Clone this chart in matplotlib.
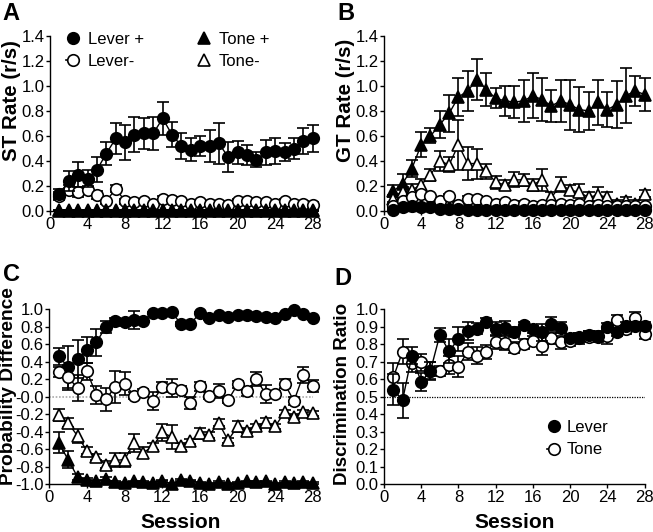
import numpy as np
import matplotlib
matplotlib.use("Agg")
import matplotlib.pyplot as plt
from matplotlib.lines import Line2D

plt.rcParams['font.family'] = ['Liberation Sans', 'DejaVu Sans']
plt.rcParams['axes.unicode_minus'] = False

sessions = list(range(1, 29))

# Panel A: ST rate (r/s)
a_lever_pos = [0.14, 0.24, 0.29, 0.26, 0.33, 0.46, 0.58, 0.55, 0.61, 0.62, 0.62, 0.74, 0.61, 0.52,
               0.49, 0.52, 0.52, 0.54, 0.43, 0.47, 0.45, 0.41, 0.47, 0.48, 0.47, 0.50, 0.56, 0.58]
a_lever_pos_err = [0.04, 0.08, 0.10, 0.07, 0.10, 0.09, 0.12, 0.14, 0.14, 0.12, 0.13, 0.13, 0.10, 0.10,
                   0.09, 0.08, 0.13, 0.16, 0.12, 0.09, 0.08, 0.06, 0.10, 0.10, 0.07, 0.08, 0.10, 0.11]
a_lever_neg = [0.12, 0.17, 0.15, 0.17, 0.13, 0.08, 0.18, 0.08, 0.07, 0.08, 0.06, 0.10, 0.09, 0.08,
               0.06, 0.07, 0.06, 0.06, 0.05, 0.08, 0.08, 0.07, 0.07, 0.06, 0.08, 0.06, 0.06, 0.05]
a_lever_neg_err = [0.03, 0.04, 0.04, 0.03, 0.03, 0.02, 0.03, 0.02, 0.02, 0.02, 0.02, 0.02, 0.02, 0.02,
                   0.02, 0.02, 0.02, 0.02, 0.02, 0.02, 0.02, 0.02, 0.02, 0.02, 0.02, 0.02, 0.02, 0.02]
a_tone_pos = [0.0] * 28
a_tone_neg = [0.01] * 28

# Panel B: GT rate (r/s)
b_tone_pos = [0.16, 0.22, 0.34, 0.53, 0.60, 0.69, 0.78, 0.91, 0.96, 1.05, 0.97, 0.90, 0.88, 0.87,
              0.88, 0.92, 0.89, 0.84, 0.88, 0.85, 0.81, 0.80, 0.87, 0.81, 0.85, 0.92, 0.96, 0.93]
b_tone_pos_err = [0.05, 0.08, 0.07, 0.10, 0.06, 0.11, 0.15, 0.15, 0.16, 0.16, 0.13, 0.08, 0.12, 0.13,
                  0.17, 0.18, 0.17, 0.13, 0.17, 0.20, 0.18, 0.15, 0.18, 0.14, 0.19, 0.22, 0.12, 0.13]
b_tone_neg = [0.10, 0.15, 0.17, 0.21, 0.29, 0.40, 0.37, 0.53, 0.38, 0.38, 0.32, 0.23, 0.21, 0.25,
              0.25, 0.21, 0.25, 0.11, 0.21, 0.17, 0.15, 0.11, 0.13, 0.11, 0.06, 0.08, 0.06, 0.14]
b_tone_neg_err = [0.03, 0.04, 0.05, 0.05, 0.05, 0.08, 0.06, 0.20, 0.13, 0.12, 0.06, 0.05, 0.04, 0.06,
                  0.05, 0.05, 0.09, 0.04, 0.06, 0.04, 0.07, 0.04, 0.06, 0.04, 0.03, 0.03, 0.03, 0.03]
b_lever_neg = [0.04, 0.08, 0.11, 0.14, 0.12, 0.08, 0.12, 0.05, 0.10, 0.10, 0.08, 0.06, 0.07, 0.05,
               0.06, 0.04, 0.05, 0.05, 0.06, 0.05, 0.06, 0.04, 0.05, 0.04, 0.04, 0.04, 0.04, 0.04]
b_lever_neg_err = [0.02] * 28
b_lever_pos = [0.01, 0.03, 0.04, 0.03, 0.03, 0.02, 0.02, 0.02, 0.01, 0.01, 0.01, 0.01, 0.01, 0.01,
               0.01, 0.01, 0.01, 0.01, 0.01, 0.01, 0.01, 0.01, 0.01, 0.01, 0.01, 0.01, 0.01, 0.01]

# Panel C: probability difference
c_lever_pos = [0.46, 0.34, 0.43, 0.53, 0.62, 0.80, 0.87, 0.85, 0.88, 0.87, 0.96, 0.96, 0.97, 0.83,
               0.83, 0.96, 0.90, 0.93, 0.91, 0.93, 0.93, 0.92, 0.91, 0.90, 0.95, 0.99, 0.95, 0.90]
c_lever_pos_err = [0.10, 0.24, 0.22, 0.15, 0.15, 0.07, 0.03, 0.04, 0.10, 0.02, 0.01, 0.01, 0.01, 0.02,
                   0.02, 0.01, 0.02, 0.01, 0.02, 0.01, 0.01, 0.02, 0.02, 0.02, 0.01, 0.01, 0.02, 0.02]
c_lever_neg = [0.28, 0.22, 0.10, 0.29, 0.02, -0.03, 0.11, 0.15, 0.01, 0.05, -0.05, 0.11, 0.10, 0.08,
               -0.07, 0.12, 0.01, 0.06, -0.04, 0.14, 0.06, 0.20, 0.03, 0.03, 0.15, -0.05, 0.25, 0.12]
c_lever_neg_err = [0.06, 0.14, 0.15, 0.10, 0.10, 0.13, 0.18, 0.13, 0.04, 0.04, 0.10, 0.06, 0.10, 0.04,
                   0.07, 0.05, 0.04, 0.08, 0.03, 0.04, 0.05, 0.08, 0.10, 0.04, 0.05, 0.05, 0.09, 0.07]
c_tone_neg = [-0.21, -0.30, -0.45, -0.62, -0.69, -0.78, -0.73, -0.72, -0.53, -0.64, -0.57, -0.41, -0.46, -0.57,
              -0.51, -0.42, -0.44, -0.30, -0.50, -0.34, -0.39, -0.34, -0.29, -0.34, -0.18, -0.23, -0.18, -0.19]
c_tone_neg_err = [0.07, 0.05, 0.08, 0.04, 0.03, 0.04, 0.08, 0.08, 0.10, 0.06, 0.04, 0.10, 0.14, 0.04,
                  0.03, 0.06, 0.03, 0.04, 0.03, 0.06, 0.03, 0.03, 0.05, 0.03, 0.03, 0.03, 0.03, 0.03]
c_tone_pos = [-0.53, -0.72, -0.92, -0.95, -0.97, -0.94, -0.98, -0.99, -0.97, -0.98, -0.99, -0.96, -1.0, -0.95,
              -0.96, -0.99, -1.0, -0.98, -1.0, -0.99, -0.97, -0.98, -0.97, -1.0, -0.98, -0.99, -0.98, -0.99]
c_tone_pos_err = [0.12, 0.10, 0.03, 0.02, 0.02, 0.02, 0.01, 0.01, 0.01, 0.01, 0.01, 0.01, 0.01, 0.01,
                  0.01, 0.01, 0.01, 0.01, 0.01, 0.01, 0.01, 0.01, 0.01, 0.01, 0.01, 0.01, 0.01, 0.01]

# Panel D: discrimination ratio
d_lever = [0.54, 0.48, 0.735, 0.584, 0.649, 0.853, 0.76, 0.83, 0.876, 0.89, 0.93, 0.887, 0.895, 0.87,
           0.908, 0.887, 0.868, 0.914, 0.895, 0.834, 0.844, 0.853, 0.85, 0.90, 0.868, 0.906, 0.906, 0.905]
d_lever_err = [0.09, 0.10, 0.05, 0.05, 0.05, 0.04, 0.07, 0.07, 0.05, 0.03, 0.02, 0.04, 0.04, 0.03,
               0.02, 0.02, 0.05, 0.04, 0.03, 0.02, 0.02, 0.02, 0.02, 0.02, 0.02, 0.02, 0.02, 0.02]
d_tone = [0.61, 0.758, 0.69, 0.697, 0.647, 0.647, 0.68, 0.672, 0.758, 0.735, 0.758, 0.815, 0.805, 0.78,
          0.80, 0.82, 0.79, 0.834, 0.81, 0.82, 0.834, 0.844, 0.844, 0.85, 0.94, 0.887, 0.952, 0.86]
d_tone_err = [0.08, 0.07, 0.05, 0.05, 0.05, 0.03, 0.05, 0.06, 0.05, 0.05, 0.04, 0.04, 0.04, 0.03,
              0.03, 0.03, 0.05, 0.03, 0.04, 0.03, 0.03, 0.03, 0.03, 0.05, 0.03, 0.03, 0.03, 0.03]

MS = 8.3
TICK_FS = 12


def series(ax, y, err, marker, filled, z):
    mfc = 'black' if filled else 'white'
    ms = MS if marker == 'o' else MS + 0.3
    cont = ax.errorbar(sessions, y, yerr=err, fmt='-', marker=marker, color='black', mfc=mfc,
                       mec='black', mew=1.2, ms=ms, lw=1.0, elinewidth=1.2, capsize=4,
                       capthick=1.2, zorder=z)
    for art in cont.get_children():
        art.set_clip_on(False)
    cont.lines[0].set_clip_on(False)
    return cont


def style(ax, ylim, yticks, ylabel, lab_fs, lab_xy, xlabel=None):
    ax.set_xlim(0, 28)
    ax.set_ylim(*ylim)
    ax.set_xticks(range(0, 29, 4))
    ax.set_yticks(yticks)
    ax.set_yticklabels([f"{t:.1f}" for t in yticks])
    for s in ['top', 'right']:
        ax.spines[s].set_visible(False)
    for s in ['left', 'bottom']:
        ax.spines[s].set_linewidth(1.0)
    ax.tick_params(direction='out', length=3, width=1.0, labelsize=TICK_FS, pad=1)
    ax.set_ylabel(ylabel, fontsize=lab_fs, fontweight='bold')
    ax.yaxis.set_label_coords(*lab_xy)
    if xlabel:
        ax.set_xlabel(xlabel, fontsize=15, fontweight='bold', labelpad=6)


fig = plt.figure(figsize=(6.53, 5.32), dpi=100)
axA = fig.add_axes([0.0766, 0.603, 0.4024, 0.330])
axB = fig.add_axes([0.588, 0.603, 0.399, 0.330])
axC = fig.add_axes([0.0755, 0.0902, 0.4035, 0.3284])
axD = fig.add_axes([0.588, 0.0902, 0.399, 0.3284])

# A
series(axA, a_lever_neg, a_lever_neg_err, 'o', False, 3)
series(axA, a_lever_pos, a_lever_pos_err, 'o', True, 4)
series(axA, a_tone_neg, [0.0] * 28, '^', False, 5)
series(axA, a_tone_pos, [0.0] * 28, '^', True, 6)
style(axA, (0, 1.4), np.round(np.arange(0, 1.41, 0.2), 1), 'ST Rate (r/s)', 14.8, (-0.11, 0.63))

# B
series(axB, b_tone_pos, b_tone_pos_err, '^', True, 3)
series(axB, b_tone_neg, b_tone_neg_err, '^', False, 4)
series(axB, b_lever_neg, b_lever_neg_err, 'o', False, 5)
series(axB, b_lever_pos, [0.0] * 28, 'o', True, 6)
style(axB, (0, 1.4), np.round(np.arange(0, 1.41, 0.2), 1), 'GT Rate (r/s)', 14.8, (-0.112, 0.63))

# C
axC.plot([0, 28], [0, 0], color='#aaaaaa', lw=1.2, ls=(0, (1, 1)), zorder=1)
series(axC, c_lever_pos, c_lever_pos_err, 'o', True, 3)
series(axC, c_lever_neg, c_lever_neg_err, 'o', False, 4)
series(axC, c_tone_neg, c_tone_neg_err, '^', False, 5)
series(axC, c_tone_pos, c_tone_pos_err, '^', True, 6)
style(axC, (-1.0, 1.0), np.round(np.arange(-1.0, 1.01, 0.2), 1), 'Probability Difference', 13.8,
      (-0.123, 0.558), 'Session')

# D
axD.plot([0, 28], [0.5, 0.5], color='black', lw=0.9, ls=(0, (1, 1)), zorder=1)
series(axD, d_tone, d_tone_err, 'o', False, 3)
series(axD, d_lever, d_lever_err, 'o', True, 4)
style(axD, (0, 1.0), np.round(np.arange(0, 1.01, 0.1), 1), 'Discrimination Ratio', 13.5,
      (-0.127, 0.518), 'Session')


def handle(marker, filled, line):
    return Line2D([0], [0], marker=marker, color='black', lw=1.2 if line else 0,
                  mfc='black' if filled else 'white', mec='black', mew=1.2,
                  ms=MS if marker == 'o' else MS + 0.3)


legA = axA.legend([handle('o', True, False), handle('o', False, True),
                   handle('^', True, False), handle('^', False, False)],
                  ['Lever +', 'Lever-', 'Tone +', 'Tone-'], ncol=2, frameon=False,
                  fontsize=12, handlelength=0.8, handletextpad=0.5, columnspacing=3.2,
                  labelspacing=0.45, loc='upper left', bbox_to_anchor=(0.035, 1.06),
                  borderaxespad=0)
axD.legend([handle('o', True, False), handle('o', False, True)], ['Lever', 'Tone'],
           frameon=False, fontsize=12, handlelength=0.8, handletextpad=0.4,
           labelspacing=0.45, loc='upper left', bbox_to_anchor=(0.6, 0.405), borderaxespad=0)

for lab, x, y in [('A', 0.004, 0.997), ('B', 0.516, 0.997), ('C', 0.004, 0.505), ('D', 0.512, 0.498)]:
    fig.text(x, y, lab, fontsize=17, fontweight='bold', ha='left', va='top')

fig.savefig('out.png', dpi=100)
